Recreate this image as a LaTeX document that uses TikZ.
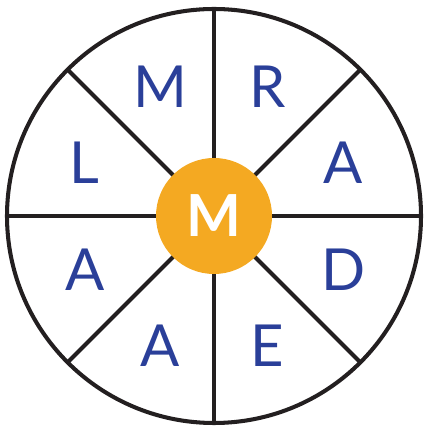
\documentclass[tikz,border=0pt]{standalone}
\usepackage{fontspec}
\setmainfont{Lato}
\usepackage{xcolor}
\usepackage{tikz}
\usetikzlibrary{positioning, calc}

\definecolor{wheelblue}{HTML}{2A3F99}
\definecolor{wheelorange}{HTML}{F4A922}
\definecolor{wheelline}{HTML}{231F20}

\tikzset{
    spoke/.style={draw=wheelline, line width=2.3pt},
    letter/.style={text=wheelblue, font=\fontsize{33}{33}\selectfont, inner sep=0pt},
    hub/.style={circle, fill=wheelorange, minimum size=116*0.02cm, inner sep=0pt,
        text=white, font=\fontsize{33}{33}\selectfont\bfseries}
}

\begin{document}
\begin{tikzpicture}[x=0.02cm, y=0.02cm]
        \useasboundingbox (0,0) rectangle (427,432);

        \coordinate (c) at (214,216);
        \draw[spoke] (c) circle (207);

        % spokes
        \foreach \a in {0,45,...,315}
            \coordinate (s\a) at ($(c)+(\a:207)$);
        \foreach \a in {0,45,...,315}
            \draw[spoke] (c) -- (s\a);

        \node[hub] (hub) at (c) {M};

        % letters, clockwise from top left
        \foreach \a/\t in {112.5/M, 67.5/R, 22.5/A, -22.5/D, -67.5/E, -112.5/A, -157.5/A, 157.5/L}
            \node[letter] (l\a) at ($(c)+(\a:140)$) {\t};
\end{tikzpicture}
\end{document}
